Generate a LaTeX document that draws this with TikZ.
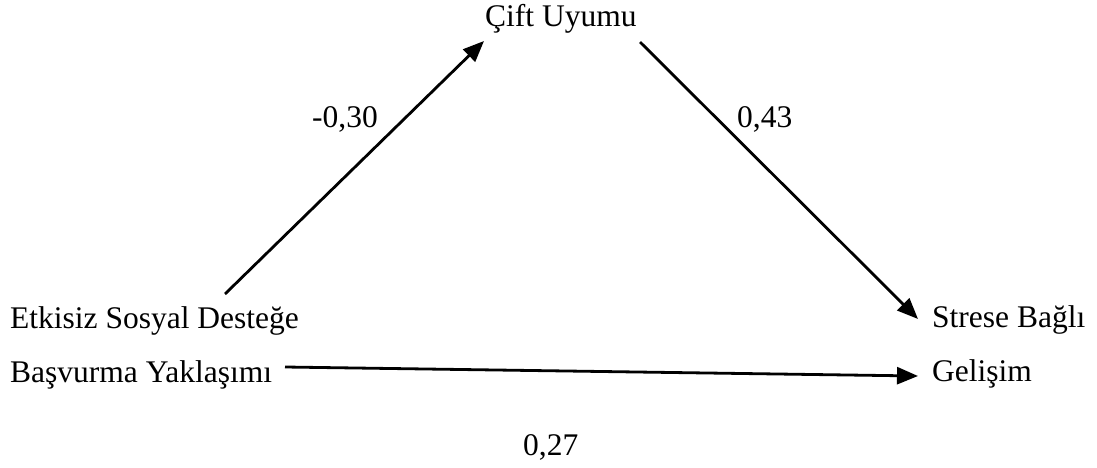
\documentclass[tikz,border=0pt]{standalone}
\usepackage{fontspec}
\setmainfont{Liberation Serif}
\usetikzlibrary{arrows.meta}
\tikzset{
  lbl/.style={inner sep=0pt, anchor=base west, font=\fontsize{31.5}{38}\selectfont},
  conn/.style={line width=2.8pt, -{Triangle[length=21pt,width=17pt]}}
}
\begin{document}
\begin{tikzpicture}[x=1pt,y=-1pt]
\useasboundingbox (0,0) rectangle (1097,468);
\node[lbl] (cift) at (485,27) {Çift Uyumu};
\node[lbl] (etk1) at (10,328) {Etkisiz Sosyal Desteğe};
\node[lbl] (etk2) at (10,382) {Başvurma Yaklaşımı};
\node[lbl] (str1) at (932,327) {Strese Bağlı};
\node[lbl] (str2) at (932,381) {Gelişim};
\node[lbl] (l1) at (312,128) {-0,30};
\node[lbl] (l2) at (737,128) {0,43};
\node[lbl] (l3) at (523,455) {0,27};
\coordinate (a1s) at (225,294);
\coordinate (a1e) at (484,41);
\coordinate (a2s) at (640,42);
\coordinate (a2e) at (918,319);
\coordinate (a3s) at (285,367);
\coordinate (a3e) at (918,376);
\draw[conn] (a1s) -- (a1e);
\draw[conn] (a2s) -- (a2e);
\draw[conn] (a3s) -- (a3e);
\end{tikzpicture}
\end{document}
